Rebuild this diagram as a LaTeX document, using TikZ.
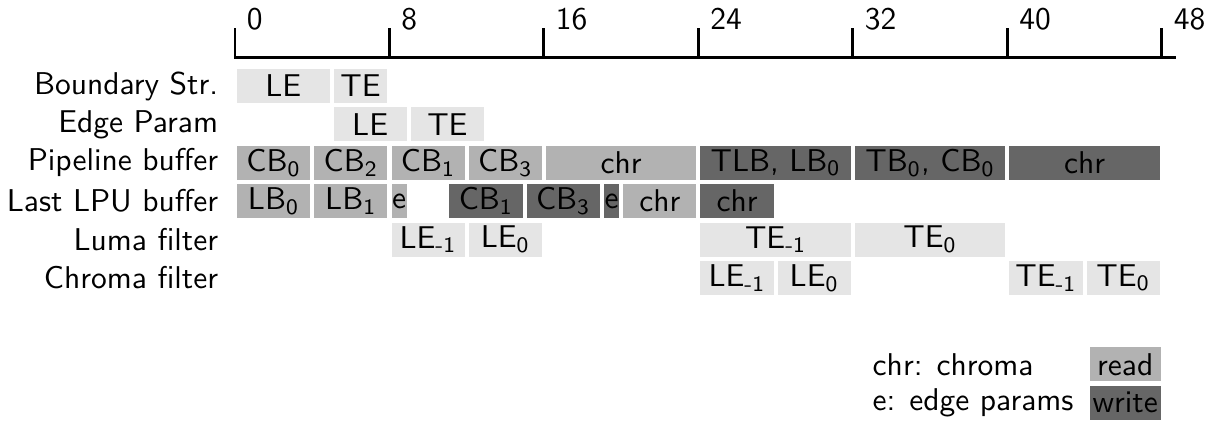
\documentclass[tikz,border=0pt]{standalone}
\renewcommand{\familydefault}{\sfdefault}
% one busy interval: name, row, from, to, style, text
\newcommand{\busy}[6]{%
  \node[#5, minimum width={(#4-#3)*6.131pt-1.3pt}] (#1) at ({(#3+#4)/2},#2) {#6};}
\begin{document}
\begin{tikzpicture}[x=6.131pt, y=12.19pt,
    lbl/.style={anchor=east},
    cell/.style={inner sep=0pt, minimum height=10.8pt},
    idle/.style={cell, fill=black!10},
    rd/.style={cell, fill=black!30},
    wr/.style={cell, fill=black!60},
    axis/.style={line width=0.95pt, line cap=rect}]
  \useasboundingbox (-12.17,2.24) rectangle (50.44,-8.776);
  \draw[axis] (0,0.755) -- (48.65,0.755);
  \foreach \t in {0,8,...,48}
    \draw[axis] (\t,0.755) -- (\t,1.484) node[anchor=base west] (tick\t) {\t};

  \node[lbl] (boundary) at (-0.3,0) {Boundary Str.};
  \node[lbl] (edge) at (-0.3,-1) {Edge Param};
  \node[lbl] (pipe) at (-0.3,-2) {Pipeline buffer};
  \node[lbl] (lastlpu) at (-0.3,-3) {Last LPU buffer};
  \node[lbl] (luma) at (-0.3,-4) {Luma filter};
  \node[lbl] (chroma) at (-0.3,-5) {Chroma filter};

  \busy{bs-le}{0}{0}{5}{idle}{LE}
  \busy{bs-te}{0}{5}{8}{idle}{TE}

  \busy{ep-le}{-1}{5}{9}{idle}{LE}
  \busy{ep-te}{-1}{9}{13}{idle}{TE}

  \busy{pb-cb0}{-2}{0}{4}{rd}{CB\textsubscript{0}}
  \busy{pb-cb2}{-2}{4}{8}{rd}{CB\textsubscript{2}}
  \busy{pb-cb1}{-2}{8}{12}{rd}{CB\textsubscript{1}}
  \busy{pb-cb3}{-2}{12}{16}{rd}{CB\textsubscript{3}}
  \busy{pb-chr}{-2}{16}{24}{rd}{chr}
  \busy{pb-tlb}{-2}{24}{32}{wr}{TLB, LB\textsubscript{0}}
  \busy{pb-tb}{-2}{32}{40}{wr}{TB\textsubscript{0}, CB\textsubscript{0}}
  \busy{pb-chr2}{-2}{40}{48}{wr}{chr}

  \busy{lb-lb0}{-3}{0}{4}{rd}{LB\textsubscript{0}}
  \busy{lb-lb1}{-3}{4}{8}{rd}{LB\textsubscript{1}}
  \busy{lb-e}{-3}{8}{9}{rd}{e}
  \busy{lb-cb1}{-3}{11}{15}{wr}{CB\textsubscript{1}}
  \busy{lb-cb3}{-3}{15}{19}{wr}{CB\textsubscript{3}}
  \busy{lb-e2}{-3}{19}{20}{wr}{e}
  \busy{lb-chr}{-3}{20}{24}{rd}{chr}
  \busy{lb-chr2}{-3}{24}{28}{wr}{chr}

  \busy{lf-le1}{-4}{8}{12}{idle}{LE\textsubscript{-1}}
  \busy{lf-le0}{-4}{12}{16}{idle}{LE\textsubscript{0}}
  \busy{lf-te1}{-4}{24}{32}{idle}{TE\textsubscript{-1}}
  \busy{lf-te0}{-4}{32}{40}{idle}{TE\textsubscript{0}}

  \busy{cf-le1}{-5}{24}{28}{idle}{LE\textsubscript{-1}}
  \busy{cf-le0}{-5}{28}{32}{idle}{LE\textsubscript{0}}
  \busy{cf-te1}{-5}{40}{44}{idle}{TE\textsubscript{-1}}
  \busy{cf-te0}{-5}{44}{48}{idle}{TE\textsubscript{0}}

  \node[anchor=west] (chr-key) at (32.45,-7.25) {chr: chroma};
  \node[anchor=west] (e-key) at (32.45,-8.25) {e: edge params};
  \busy{read-key}{-7.25}{44.15}{48.05}{rd}{read}
  \busy{write-key}{-8.25}{44.15}{48.05}{wr}{write}
\end{tikzpicture}
\end{document}
